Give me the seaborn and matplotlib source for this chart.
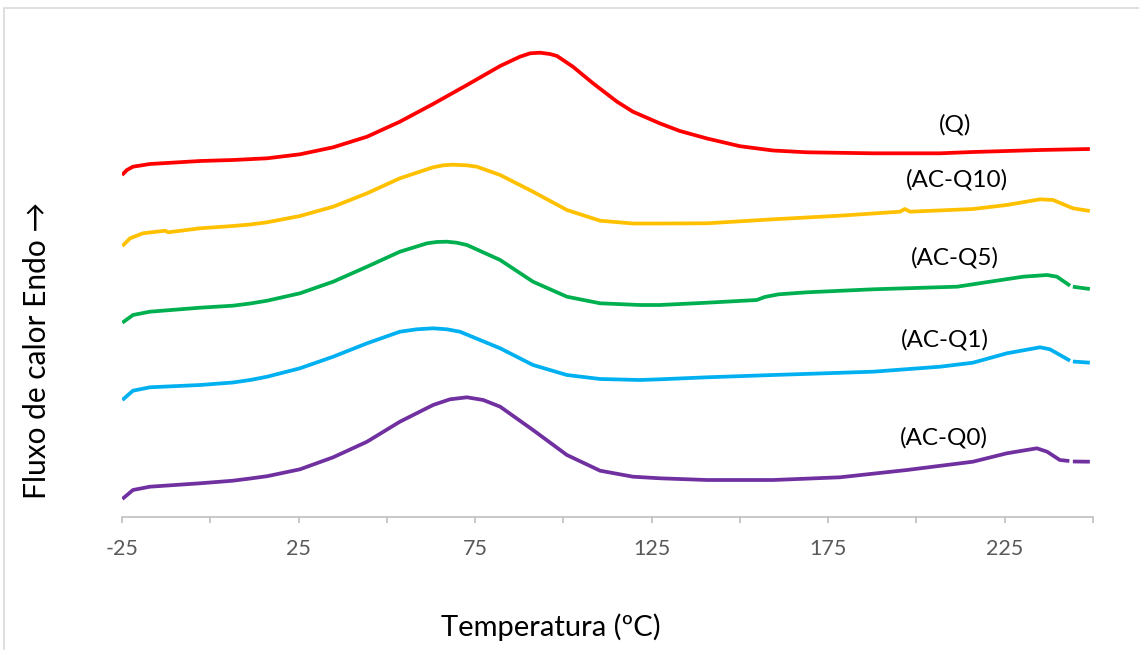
import numpy as np
import pandas as pd
import matplotlib
matplotlib.use("Agg")
import matplotlib.pyplot as plt
import seaborn as sns

# ---- data (temperature in degC, heat-flow signal in arbitrary offset units) ----
q_t = [-25.0, -23.6, -21.9, -17.1, -2.9, 6.4, 16.1, 25.4, 34.8, 44.4, 53.7, 63.1,
       72.7, 82.1, 87.7, 90.6, 93.4, 96.2, 98.2, 102.7, 108.4, 115.2, 119.7, 127.4,
       133.0, 140.7, 150.0, 159.4, 169.0, 187.7, 206.7, 216.0, 225.6, 235.0, 249.1]
q_y = [342, 347, 350.3, 353, 356, 357, 358.7, 362.7, 369.7, 380.3, 395.3, 413,
       432, 451, 460.3, 463.7, 464.3, 463, 461, 450.3, 433.7, 415.3, 405.3, 393.5,
       386, 378.5, 370.8, 366.5, 364.7, 363.7, 363.7, 365, 366, 367, 368]

q10_t = [-24.9, -22.7, -19.1, -12.8, -11.9, -2.9, 6.4, 11.3, 16.1, 25.4, 34.8, 44.4,
         53.7, 63.1, 66.0, 68.7, 72.6, 75.5, 82.1, 91.4, 101.0, 110.4, 119.7, 127.4,
         140.7, 159.4, 178.3, 195.3, 196.7, 198.2, 216.0, 225.6, 235.0, 238.7, 244.3,
         249.1]
q10_y = [271, 278.7, 283.7, 286.3, 284.7, 288.7, 291, 292.5, 294.7, 301, 310.3, 323.7,
         338.7, 349.7, 351.7, 352.3, 351.7, 350.3, 342, 325.3, 307, 296.3, 293.5, 293.5,
         293.7, 297.7, 301.3, 305.3, 308, 305.3, 308, 312, 317.7, 317, 308.7,
         306]

q5_t = [-24.9, -21.9, -17.1, -2.9, 6.4, 11.3, 16.1, 25.4, 34.8, 44.4, 53.7, 61.4,
        64.1, 67.0, 69.8, 72.7, 82.1, 91.4, 101.0, 110.4, 121.7, 127.4, 140.7, 154.8,
        157.0, 161.0, 169.0, 187.7, 211.5, 220.8, 230.2, 237.0, 239.8, 243.5, 244.3,
        249.1]
q5_y = [194.3, 202, 205.3, 209.3, 211.3, 213.5, 216.3, 223.7, 235.3, 250.3, 265.3, 273.7,
        275, 275.3, 274.3, 272, 257, 235.3, 220.3, 213.7, 212, 212, 214.3, 217,
        220, 222.7, 224.7, 227.7, 230.3, 235.3, 240.3, 242, 240.3, 231.3, 230.3,
        228]

q1_t = [-24.9, -21.9, -17.1, -2.9, 6.4, 11.3, 16.1, 25.4, 34.8, 44.4, 53.7, 58.5,
        63.1, 67.0, 70.7, 82.1, 91.4, 101.0, 110.4, 121.7, 127.4, 140.7, 159.4, 187.7,
        206.7, 216.0, 225.6, 235.0, 237.8, 243.5, 244.3, 249.1]
q1_y = [117, 126.3, 129.7, 132, 134.5, 137, 140.3, 148.7, 160.3, 173.7, 185.3, 187.7,
        188.7, 187.7, 185.3, 168.7, 152, 142, 138, 137, 137.7, 139.7, 142, 145.3,
        150.3, 154.3, 163.7, 169.7, 167.7, 156.3, 155.5, 154.3]

q0_t = [-24.9, -21.9, -17.1, -2.9, 6.4, 11.3, 16.1, 25.4, 34.8, 44.4, 53.7, 63.1,
        67.9, 72.7, 77.3, 82.1, 91.4, 101.0, 110.4, 119.7, 127.4, 140.7, 159.4, 178.3,
        197.3, 216.0, 225.6, 234.1, 237.0, 240.6, 243.3, 244.3, 249.1]
q0_y = [18, 27, 30.3, 33.7, 36.3, 38.5, 40.8, 47.7, 59.7, 75.3, 95.3, 112,
        117.7, 119.7, 117, 110.3, 87, 62, 46.3, 40.3, 38.7, 37, 37, 39.7,
        47, 55.3, 63.7, 68.7, 65.3, 57, 56, 55.5, 55.3]

series_names = ["(Q)", "(AC-Q10)", "(AC-Q5)", "(AC-Q1)", "(AC-Q0)"]
series_t = [q_t, q10_t, q5_t, q1_t, q0_t]
series_y = [q_y, q10_y, q5_y, q1_y, q0_y]
series_break = [None, None, 244.0, 244.0, 243.8]   # small gap in the recorded trace
colors = ["#FF0000", "#FFC000", "#00B050", "#00B0F0", "#7030A0"]

label_t = [211.0, 211.5, 211.0, 208.0, 207.7]
label_y = [392, 337, 259, 177, 79]

xticks_major = [-25, 25, 75, 125, 175, 225]
xticks_minor = [0, 50, 100, 150, 200, 250]

# ---- build long frame ----
frames = []
for name, t, y, brk in zip(series_names, series_t, series_y, series_break):
    t = np.asarray(t, float)
    seg = np.zeros(len(t), int) if brk is None else (t > brk).astype(int)
    frames.append(pd.DataFrame({"T": t, "H": y, "serie": name, "seg": seg}))
df = pd.concat(frames, ignore_index=True)

sns.set_theme(style="white")
plt.rcParams["font.family"] = ["Lato", "DejaVu Sans"]

fig = plt.figure(figsize=(11.39, 6.5), dpi=100)
ax = fig.add_axes([122 / 1139, (650 - 517) / 650, (1093 - 122) / 1139, (517 - 30) / 650])

sns.lineplot(data=df, x="T", y="H", hue="serie", units="seg",
             palette=dict(zip(series_names, colors)), hue_order=series_names,
             sort=False, estimator=None, linewidth=2.7, legend=False, ax=ax)
for ln in ax.get_lines():
    ln.set_solid_capstyle("butt")
    ln.set_solid_joinstyle("round")

for name, lx, ly in zip(series_names, label_t, label_y):
    ax.text(lx, ly, name, ha="center", va="center", fontsize=17.5, color="#000000")

ax.set_xlim(-25, 250)
ax.set_ylim(0, 487)
ax.set_xticks(xticks_major)
ax.set_xticks(xticks_minor, minor=True)
ax.set_xticklabels([str(v) for v in xticks_major], fontsize=15.5, color="#595959")
ax.set_yticks([])
ax.set_xlabel("")
ax.set_ylabel("")
for s in ["top", "right", "left"]:
    ax.spines[s].set_visible(False)
ax.spines["bottom"].set_color("#BFBFBF")
ax.spines["bottom"].set_linewidth(1.2)
ax.tick_params(axis="x", which="both", direction="out", length=4, width=1.2,
               color="#BFBFBF", bottom=True, pad=12)

fig.text(551 / 1139, 1 - 627 / 650, "Temperatura (ºC)", ha="center", va="center",
         fontsize=21, color="#000000")
fig.text(37 / 1139, 1 - 350 / 650, "Fluxo de calor Endo \u2192", ha="center", va="center",
         rotation=90, fontsize=21.5, color="#000000")

# chart-area border (light grey)
border = plt.Rectangle((4 / 1139, -0.1), 1.2, (650 - 8) / 650 + 0.1, transform=fig.transFigure,
                       fill=False, edgecolor="#D9D9D9", linewidth=1.2)
fig.patches.append(border)

fig.savefig("out.png", dpi=100)
